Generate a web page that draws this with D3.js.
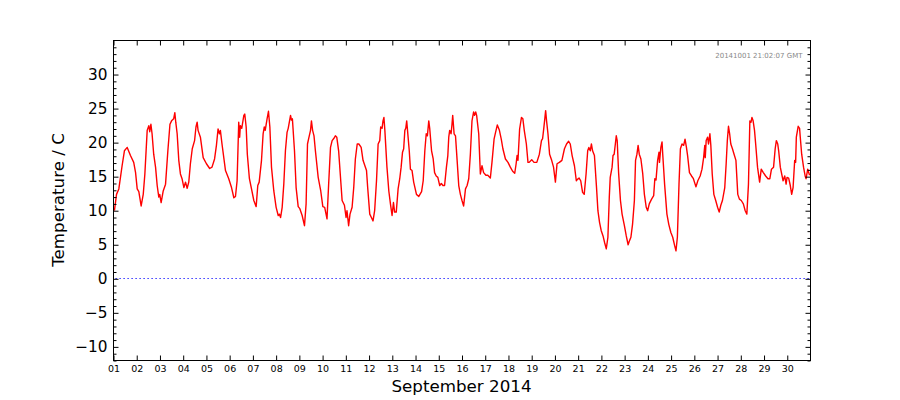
<!DOCTYPE html>
<html>
<head>
<meta charset="utf-8">
<script src="https://cdn.jsdelivr.net/npm/d3@7"></script>
<style>
  body { margin: 0; background: #fff; }
  svg text { font-family: "DejaVu Sans", sans-serif; fill: #000; }
  .tick line { stroke: #000; }
</style>
</head>
<body>
<svg id="chart" width="900" height="400"></svg>
<script>
"use strict";

// days since 2014-09-01 00:00 GMT
const dayOffsets = [
  0.04,0.13,0.23,0.37,0.47,0.59,0.73,0.87,0.95,1.02,1.09,1.19,1.28,1.35,1.45,1.52,1.56,1.61,1.66,1.73,
  1.81,1.88,1.95,1.99,2.05,2.14,2.24,2.34,2.43,2.50,2.59,2.64,2.68,2.74,2.81,2.88,2.95,3.03,3.10,3.17,
  3.24,3.31,3.39,3.49,3.55,3.60,3.64,3.74,3.86,4.00,4.14,4.24,4.35,4.43,4.50,4.56,4.60,4.67,4.82,4.96,
  5.08,5.18,5.25,5.32,5.39,5.43,5.46,5.52,5.61,5.65,5.71,5.76,5.85,5.94,6.04,6.14,6.21,6.27,6.37,6.44,
  6.49,6.53,6.61,6.67,6.73,6.80,6.90,7.00,7.09,7.14,7.19,7.26,7.33,7.40,7.47,7.52,7.62,7.66,7.70,7.79,
  7.86,7.95,8.02,8.12,8.22,8.29,8.35,8.40,8.48,8.52,8.57,8.63,8.69,8.81,8.92,9.01,9.09,9.19,9.26,9.34,
  9.41,9.48,9.55,9.61,9.69,9.84,9.94,10.01,10.05,10.12,10.18,10.27,10.34,10.41,10.49,10.56,10.66,10.74,10.89,10.94,
  11.03,11.10,11.17,11.24,11.32,11.39,11.46,11.50,11.56,11.60,11.64,11.68,11.77,11.85,11.92,11.99,12.05,12.10,12.17,12.25,
  12.32,12.38,12.44,12.49,12.54,12.58,12.62,12.68,12.73,12.78,12.85,12.92,13.04,13.14,13.26,13.33,13.40,13.46,13.51,13.57,
  13.61,13.69,13.76,13.82,13.89,13.96,14.04,14.11,14.18,14.25,14.33,14.39,14.43,14.47,14.53,14.57,14.60,14.66,14.72,14.79,
  14.86,14.93,15.00,15.07,15.15,15.22,15.29,15.36,15.43,15.50,15.54,15.59,15.63,15.72,15.79,15.86,15.93,16.03,16.11,16.22,
  16.29,16.38,16.43,16.52,16.61,16.69,16.76,16.87,16.98,17.08,17.18,17.27,17.33,17.37,17.41,17.48,17.56,17.62,17.68,17.77,
  17.84,17.89,18.00,18.10,18.22,18.33,18.42,18.47,18.52,18.57,18.60,18.64,18.70,18.77,18.86,18.94,19.02,19.09,19.19,19.30,
  19.41,19.50,19.59,19.66,19.74,19.84,19.92,19.97,20.04,20.11,20.19,20.26,20.34,20.41,20.46,20.52,20.57,20.62,20.70,20.79,
  20.85,20.92,20.99,21.07,21.14,21.21,21.28,21.34,21.38,21.46,21.50,21.55,21.60,21.64,21.68,21.74,21.82,21.89,21.99,22.07,
  22.15,22.20,22.27,22.34,22.42,22.47,22.53,22.58,22.63,22.70,22.78,22.85,22.93,22.99,23.06,23.16,23.25,23.30,23.35,23.42,
  23.48,23.50,23.56,23.61,23.64,23.72,23.82,23.90,23.99,24.07,24.15,24.21,24.27,24.34,24.40,24.47,24.54,24.60,24.66,24.71,
  24.79,24.88,24.96,25.07,25.15,25.25,25.33,25.40,25.45,25.47,25.51,25.57,25.61,25.67,25.71,25.77,25.84,25.92,26.00,26.07,
  26.14,26.21,26.31,26.37,26.42,26.47,26.52,26.57,26.64,26.71,26.79,26.83,26.87,26.94,27.02,27.11,27.19,27.26,27.33,27.39,
  27.44,27.48,27.53,27.59,27.64,27.72,27.81,27.88,27.97,28.07,28.17,28.25,28.32,28.41,28.48,28.53,28.59,28.63,28.70,28.82,
  28.89,28.95,28.99,29.06,29.13,29.19,29.25,29.32,29.36,29.39,29.47,29.53,29.56,29.62,29.70,29.77,29.81,29.88,29.96
];

const temps = [
  10.0,12.4,13.2,16.6,18.8,19.3,18.1,17.1,15.6,13.2,12.8,10.7,12.4,15.4,21.8,22.5,21.6,22.7,21.3,18.3,
  16.4,13.7,12.0,12.4,11.2,12.9,13.9,18.8,22.7,23.2,23.5,24.4,23.0,21.3,17.4,15.4,14.7,13.4,14.2,13.3,
  14.2,16.9,19.1,20.3,22.3,23.0,21.8,20.8,17.8,16.9,16.2,16.4,17.6,19.6,22.0,21.3,21.8,19.8,15.9,14.7,
  13.4,11.9,12.1,14.4,23.0,20.8,22.5,22.1,24.0,24.2,22.3,18.3,14.7,13.2,11.5,10.6,13.7,14.2,17.4,21.3,
  22.3,21.8,23.5,24.6,22.3,16.4,12.9,10.5,9.3,9.5,9.0,10.5,13.9,18.8,21.5,22.1,24.0,23.3,23.5,18.8,
  13.4,10.6,10.3,9.3,7.8,11.0,19.8,20.6,21.8,23.2,21.8,21.0,18.8,14.9,12.9,10.6,10.5,8.8,13.9,19.3,
  20.3,20.6,21.0,20.8,18.8,11.5,10.8,9.0,10.0,7.8,9.5,10.5,13.4,17.6,19.8,19.8,19.3,17.4,15.9,13.4,
  9.5,9.0,8.5,10.0,14.4,19.8,20.3,22.3,22.1,23.2,23.7,21.8,16.4,12.9,11.0,9.3,11.2,9.8,9.8,13.2,
  14.7,16.4,18.6,19.1,21.8,22.1,23.2,20.8,18.8,16.1,15.9,14.2,12.4,12.1,12.8,14.4,18.8,21.3,21.0,23.2,
  22.1,18.8,17.6,15.6,15.1,14.9,13.7,14.0,13.7,13.7,16.4,18.1,20.8,21.8,21.3,22.7,24.0,21.3,21.0,17.4,
  13.7,12.4,11.5,10.7,13.2,13.7,14.7,18.3,23.2,24.5,24.0,24.5,24.0,21.3,15.4,16.6,15.6,15.2,15.2,14.8,
  17.1,20.5,21.3,22.6,21.8,20.5,19.1,17.6,17.1,16.4,15.8,15.5,16.9,18.1,17.4,22.0,23.7,23.5,21.8,19.8,
  17.1,17.1,17.5,17.1,17.1,18.3,20.3,20.6,22.1,23.7,24.7,23.2,21.3,18.3,17.4,16.4,14.2,16.9,17.1,17.4,
  19.1,19.8,20.2,19.8,18.1,16.6,14.4,14.6,14.8,14.4,12.7,12.4,15.4,18.8,19.3,18.8,19.8,18.8,18.1,13.4,
  10.0,8.3,7.1,6.3,5.3,4.4,6.1,12.0,14.9,16.4,18.1,18.3,19.8,21.0,20.3,15.6,11.5,9.5,7.8,6.3,
  5.0,5.5,6.1,8.0,11.5,17.4,18.3,19.6,18.3,17.6,15.4,12.4,10.5,10.0,11.0,11.7,12.2,14.7,14.5,17.4,
  18.6,17.1,19.3,20.1,18.3,13.9,9.5,8.0,6.8,6.1,4.9,4.1,6.1,13.9,19.1,19.8,19.6,20.5,19.3,18.1,
  15.6,15.1,14.7,13.5,14.4,15.1,16.1,17.8,19.6,17.8,20.3,20.8,19.8,21.3,19.6,15.4,12.4,11.5,10.5,9.8,
  10.8,11.5,13.4,16.9,20.3,22.4,21.3,19.8,19.1,18.3,17.4,14.9,12.4,11.7,11.5,11.0,10.0,9.5,13.9,23.2,
  23.0,23.7,23.2,21.8,19.8,16.4,14.2,16.1,15.6,15.1,14.7,14.7,16.1,16.4,19.1,20.3,19.8,18.8,16.4,14.4,
  15.1,13.9,14.9,14.8,13.7,12.4,13.4,17.4,17.1,20.8,22.4,22.1,20.8,18.3,16.4,15.1,14.7,16.1,15.2
];

const yMajorTicks = [-10, -5, 0, 5, 10, 15, 20, 25, 30];
const xTickDays = d3.range(1, 31);
const xLabel = "September 2014";
const yLabel = "Temperature / C";
const stamp = "20141001 21:02:07 GMT";

const start = Date.UTC(2014, 8, 1);
const data = dayOffsets.map((d, i) => ({ date: new Date(start + d * 864e5), temp: temps[i] }));

const margin = { top: 40, right: 90, bottom: 40, left: 113 };
const width = 900 - margin.left - margin.right;
const height = 400 - margin.top - margin.bottom;

const svg = d3.select('#chart');
const g = svg.append('g').attr('transform', `translate(${margin.left + 0.5},${margin.top + 0.5})`);

const x = d3.scaleUtc()
    .domain([new Date(start), new Date(Date.UTC(2014, 9, 1))])
    .range([0, width]);
const y = d3.scaleLinear().domain([-12, 35]).range([height, 0]);

const xTicks = xTickDays.map(d => new Date(Date.UTC(2014, 8, d)));
const yMinor = d3.range(-12, 36).filter(v => v % 5 !== 0);

// zero reference line
const y0 = Math.round(y(0));
g.append('line')
    .attr('x1', 2).attr('x2', width)
    .attr('y1', y0).attr('y2', y0)
    .attr('stroke', '#0000ff')
    .attr('stroke-width', 1)
    .attr('stroke-dasharray', '1.2,2.8');

// temperature line
g.append('path')
    .datum(data)
    .attr('fill', 'none')
    .attr('stroke', '#ff0000')
    .attr('stroke-width', 1.4)
    .attr('stroke-linejoin', 'round')
    .attr('d', d3.line().x(d => x(d.date)).y(d => y(d.temp)));

const styleAxis = sel => sel.call(s => s.select('.domain').remove());

// bottom / top
g.append('g')
    .attr('transform', `translate(0,${height})`)
    .call(d3.axisBottom(x).tickValues(xTicks).tickFormat(d3.utcFormat('%d')).tickSize(-5).tickPadding(5))
    .call(styleAxis)
    .call(s => s.selectAll('text').attr('font-size', 9.5).attr('font-family', '"DejaVu Sans"'));
g.append('g')
    .call(d3.axisTop(x).tickValues(xTicks).tickFormat('').tickSize(-5))
    .call(styleAxis);

// left / right, major and minor
g.append('g')
    .call(d3.axisLeft(y).tickValues(yMajorTicks).tickSize(-5).tickPadding(6))
    .call(styleAxis)
    .call(s => s.selectAll('text').attr('font-size', 15.3).attr('font-family', '"DejaVu Sans"'));
g.append('g')
    .call(d3.axisLeft(y).tickValues(yMinor).tickFormat('').tickSize(-3))
    .call(styleAxis);
g.append('g')
    .attr('transform', `translate(${width},0)`)
    .call(d3.axisRight(y).tickValues(yMajorTicks).tickFormat('').tickSize(-5))
    .call(styleAxis);
g.append('g')
    .attr('transform', `translate(${width},0)`)
    .call(d3.axisRight(y).tickValues(yMinor).tickFormat('').tickSize(-3))
    .call(styleAxis);

// frame
g.append('rect')
    .attr('width', width).attr('height', height)
    .attr('fill', 'none').attr('stroke', '#000').attr('stroke-width', 1);

g.append('text')
    .attr('x', width - 8).attr('y', 17)
    .attr('text-anchor', 'end')
    .attr('font-size', 7)
    .style('fill', '#888')
    .text(stamp);

svg.append('text')
    .attr('x', margin.left + width / 2).attr('y', 392)
    .attr('text-anchor', 'middle')
    .attr('font-size', 16.7)
    .text(xLabel);

svg.append('text')
    .attr('transform', `translate(64,${margin.top + height / 2}) rotate(-90)`)
    .attr('text-anchor', 'middle')
    .attr('font-size', 16.7)
    .text(yLabel);
</script>
</body>
</html>
